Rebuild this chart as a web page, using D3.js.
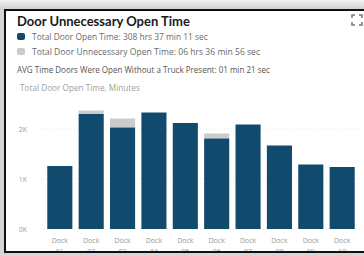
<!DOCTYPE html>
<html>
<head>
<meta charset="utf-8">
<script src="https://cdn.jsdelivr.net/npm/d3@7"></script>
<style>
  body { margin: 0; background: #fff; }
  svg { display: block; font-family: "Open Sans", sans-serif; }
</style>
</head>
<body>
<svg id="chart" width="364" height="256"></svg>
<script>
const docks = ['01', '02', '03', '04', '05', '06', '07', '08', '09', '10'];
const openMinutes = [1260, 2300, 2030, 2330, 2120, 1810, 2090, 1670, 1290, 1240];
const unnecessaryMinutes = [0, 70, 180, 0, 0, 100, 0, 0, 0, 0];
const yTicks = [0, 1000, 2000];
const legendLabels = [
  'Total Door Open Time: 308 hrs 37 min 11 sec',
  'Total Door Unnecessary Open Time: 06 hrs 36 min 56 sec'
];
const avgLine = 'AVG Time Doors Were Open Without a Truck Present: 01 min 21 sec';

const blue = '#124a6e';
const grey = '#cbcbcb';

const svg = d3.select('#chart');

// squeeze or grow a label's font so it spans the wanted width
const fitText = (sel, target) => {
  const node = sel.node();
  const size = parseFloat(sel.attr('font-size'));
  sel.attr('font-size', size * target / node.getComputedTextLength());
};

// backdrop + card
const bg = svg.append('defs').append('linearGradient')
  .attr('id', 'bg').attr('x1', 0).attr('y1', 0).attr('x2', 0).attr('y2', 1);
bg.append('stop').attr('offset', 0).attr('stop-color', '#f2f2f2');
bg.append('stop').attr('offset', 1).attr('stop-color', '#cfcfcf');
svg.append('rect').attr('width', 364).attr('height', 256).attr('fill', '#d6d6d6');
svg.append('rect').attr('width', 364).attr('height', 10).attr('fill', 'url(#bg)');
svg.append('rect')
  .attr('x', 5).attr('y', 10).attr('width', 380).attr('height', 242)
  .attr('fill', '#fff').attr('stroke', '#111').attr('stroke-width', 2);

const title = svg.append('text')
  .attr('x', 17).attr('y', 26)
  .attr('font-size', 12.5).attr('font-weight', 'bold').attr('fill', '#1a1a1a')
  .attr('font-family', 'Lato, sans-serif')
  .text('Door Unnecessary Open Time');
fitText(title, 173);

// expand icon
const icon = svg.append('g').attr('stroke', '#777').attr('stroke-width', 1.5).attr('fill', 'none');
[[352, 15, 1, 1], [362, 15, -1, 1], [352, 25, 1, -1], [362, 25, -1, -1]].forEach(([x, y, dx, dy]) => {
  icon.append('path').attr('d', `M${x},${y + 3 * dy}V${y}H${x + 3 * dx}`);
});

const legendWidths = [176, 228];
const legend = svg.selectAll('.legend').data(legendLabels).enter().append('g')
  .attr('class', 'legend')
  .attr('transform', (d, i) => `translate(17,${37 + i * 15})`);
legend.append('rect')
  .attr('x', 0).attr('y', -4).attr('width', 8).attr('height', 7).attr('rx', 2)
  .attr('fill', (d, i) => i === 0 ? blue : grey);
legend.append('text')
  .attr('x', 15).attr('y', 2.5)
  .attr('font-size', 7.3).attr('fill', '#6a6a6a')
  .text(d => d)
  .each(function (d, i) { fitText(d3.select(this), legendWidths[i]); });

const avg = svg.append('text')
  .attr('x', 17).attr('y', 72.5)
  .attr('font-size', 7.2).attr('fill', '#555')
  .text(avgLine);
fitText(avg, 253);

const yTitle = svg.append('text')
  .attr('x', 20).attr('y', 91)
  .attr('font-size', 7).attr('fill', '#a0a0a0')
  .text('Total Door Open Time, Minutes');
fitText(yTitle, 120);

// scales
const x = d3.scaleBand()
  .domain(docks)
  .range([41, 361])
  .padding(0.2);
const y = d3.scaleLinear()
  .domain([0, 2000])
  .range([229, 129]);

const yAxis = svg.append('g')
  .attr('transform', 'translate(41,0)')
  .call(d3.axisLeft(y).tickValues(yTicks).tickFormat(d => `${d / 1000}K`).tickSize(0).tickPadding(14));
yAxis.select('.domain').remove();
yAxis.selectAll('text').attr('font-size', 7).attr('fill', '#999').attr('font-family', '"Open Sans", sans-serif');
svg.append('g').selectAll('line').data(yTicks).enter().append('line')
  .attr('x1', 41).attr('x2', 361)
  .attr('y1', d => y(d)).attr('y2', d => y(d))
  .attr('stroke', '#e4e4e4').attr('stroke-dasharray', '1,2');

const rows = docks.map((d, i) => ({ dock: d, open: openMinutes[i], extra: unnecessaryMinutes[i] }));

svg.append('g').selectAll('rect').data(rows).enter().append('rect')
  .attr('x', d => x(d.dock))
  .attr('y', d => y(d.open + d.extra))
  .attr('width', x.bandwidth())
  .attr('height', d => y(d.open) - y(d.open + d.extra))
  .attr('fill', grey);

svg.append('g').selectAll('rect').data(rows).enter().append('rect')
  .attr('x', d => x(d.dock))
  .attr('y', d => y(d.open))
  .attr('width', x.bandwidth())
  .attr('height', d => y(0) - y(d.open))
  .attr('fill', blue);

// x labels, two lines
const xl = svg.append('g').selectAll('text').data(docks).enter().append('text')
  .attr('x', d => x(d) + x.bandwidth() / 2)
  .attr('y', 243)
  .attr('text-anchor', 'middle')
  .attr('font-size', 7).attr('fill', '#999');
xl.append('tspan').attr('x', d => x(d) + x.bandwidth() / 2).text('Dock');
xl.append('tspan').attr('x', d => x(d) + x.bandwidth() / 2).attr('dy', 11).text(d => d);

// bottom border drawn last so it clips the second label line
svg.append('rect').attr('x', 0).attr('y', 253).attr('width', 364).attr('height', 3).attr('fill', '#d6d6d6');
svg.append('line').attr('x1', 5).attr('x2', 364).attr('y1', 252).attr('y2', 252)
  .attr('stroke', '#111').attr('stroke-width', 2);
</script>
</body>
</html>
